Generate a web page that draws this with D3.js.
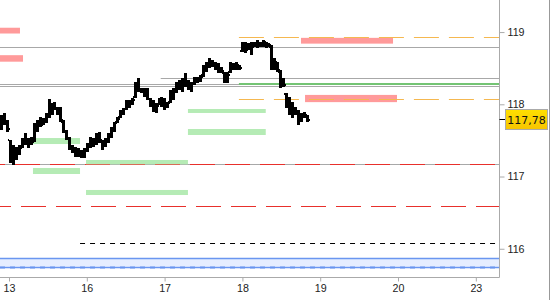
<!DOCTYPE html>
<html><head><meta charset="utf-8">
<script src="https://cdn.jsdelivr.net/npm/d3@7/dist/d3.min.js"></script>
<style>
html,body{margin:0;padding:0;background:#fff;}
svg{display:block;font-family:"DejaVu Sans",Verdana,sans-serif;}
</style></head><body>
<svg id="chart" width="550" height="300"></svg>
<script>
// ---- data ----
const dayIndex = [0,1,2,3,4,5,6];
const dayLabels = ["13","16","17","18","19","20","23"];
const priceTicks = [116,117,118,119];
const lastPrice = 117.78;
const lastPriceLabel = "117,78";

// bars (time in trading days from day "13")
const barStart = -0.103, barStep = 0.0382;
const highs = [117.85,117.88,117.78,117.51,117.44,117.41,117.44,117.53,117.60,117.53,117.55,117.74,117.78,117.82,117.81,117.88,118.07,118.02,118.03,117.96,
117.96,117.78,117.64,117.55,117.44,117.41,117.40,117.37,117.40,117.46,117.55,117.53,117.60,117.62,117.51,117.53,117.60,117.69,117.76,117.82,
117.92,117.95,118.06,118.06,118.09,118.31,118.36,118.23,118.23,118.23,118.09,118.06,118.02,118.09,118.10,118.09,118.03,118.20,118.23,118.31,
118.34,118.36,118.43,118.34,118.31,118.38,118.38,118.41,118.54,118.59,118.64,118.61,118.59,118.57,118.52,118.45,118.45,118.59,118.57,118.59,
118.54,118.86,118.86,118.85,118.86,118.86,118.89,118.86,118.89,118.86,118.85,118.82,118.64,118.59,118.48,118.36,118.16,118.10,118.03,117.96,
117.92,117.88,117.89,117.85];
const lows = [117.64,117.71,117.62,117.19,117.16,117.23,117.30,117.40,117.44,117.40,117.44,117.48,117.62,117.69,117.71,117.74,117.81,117.85,117.92,117.85,
117.76,117.60,117.51,117.37,117.33,117.27,117.27,117.26,117.26,117.34,117.40,117.41,117.44,117.46,117.37,117.41,117.46,117.53,117.62,117.74,
117.81,117.85,117.92,117.95,117.99,118.09,118.17,118.16,118.10,118.06,117.96,117.89,117.88,117.99,117.96,117.92,117.95,118.02,118.06,118.16,
118.20,118.17,118.24,118.20,118.17,118.27,118.30,118.31,118.38,118.45,118.50,118.52,118.48,118.43,118.43,118.30,118.30,118.43,118.48,118.48,
118.48,118.72,118.71,118.75,118.68,118.79,118.78,118.79,118.79,118.78,118.79,118.48,118.48,118.45,118.23,118.24,117.95,117.85,117.81,117.85,
117.71,117.76,117.81,117.76];
const opens = [117.70,117.80,117.74,117.50,117.25,117.30,117.36,117.42,117.50,117.46,117.50,117.50,117.70,117.75,117.72,117.79,117.86,117.90,118.00,117.95,
117.90,117.76,117.62,117.53,117.40,117.36,117.30,117.33,117.30,117.38,117.44,117.50,117.45,117.56,117.50,117.42,117.50,117.58,117.66,117.76,
117.82,117.90,117.93,118.02,118.00,118.10,118.25,118.20,118.20,118.15,118.08,118.00,117.93,118.00,118.05,118.00,117.98,118.03,118.16,118.20,
118.28,118.25,118.30,118.28,118.24,118.29,118.33,118.35,118.40,118.50,118.55,118.58,118.55,118.52,118.48,118.44,118.35,118.45,118.55,118.52,
118.54,118.74,118.80,118.76,118.82,118.80,118.83,118.85,118.82,118.86,118.84,118.80,118.52,118.58,118.45,118.30,118.14,118.00,117.90,117.88,
117.88,117.80,117.82,117.84];
const closes = [117.80,117.74,117.66,117.25,117.30,117.36,117.40,117.50,117.46,117.50,117.48,117.70,117.75,117.72,117.79,117.86,117.90,118.00,117.95,117.90,
117.78,117.62,117.53,117.40,117.36,117.30,117.33,117.30,117.38,117.44,117.50,117.45,117.56,117.50,117.42,117.50,117.58,117.66,117.74,117.80,
117.90,117.93,118.02,118.00,118.06,118.25,118.20,118.20,118.15,118.08,118.00,117.93,117.98,118.05,118.00,117.98,118.02,118.16,118.20,118.28,
118.25,118.30,118.28,118.24,118.29,118.33,118.35,118.38,118.50,118.55,118.58,118.55,118.52,118.48,118.46,118.35,118.40,118.55,118.52,118.55,
118.50,118.80,118.75,118.82,118.80,118.83,118.85,118.82,118.86,118.84,118.82,118.52,118.58,118.48,118.30,118.27,118.00,117.90,117.88,117.88,
117.80,117.82,117.85,117.78];

// levels
const grayPrices = [118.80, 118.37, 118.28, 118.25, 117.17];
const grayStarts = [-1, 1.95, -1, -1, -1];
const greenLinePrice = 118.28, greenLineStart = 2.955;
const orangePrices = [118.93, 118.07], orangeStart = 2.955;
const redPrices = [117.17, 116.588];
const blackDashPrice = 116.076, blackDashStart = 0.913;
const blueBand = [115.868, 115.752];
const blueDashPrice = 115.742;

// zones [start, end, high, low]
const pinkStart = [-1, -1, 3.753, 3.805];
const pinkEnd   = [0.141, 0.18, 4.936, 4.987];
const pinkHigh  = [119.06, 118.68, 118.92, 118.13];
const pinkLow   = [118.98, 118.59, 118.84, 118.03];
const greenStart = [0.308, 0.308, 0.99, 0.99, 2.30, 2.30];
const greenEnd   = [0.913, 0.913, 2.30, 2.30, 3.30, 3.30];
const greenHigh  = [117.533, 117.118, 117.229, 116.814, 117.935, 117.658];
const greenLow   = [117.450, 117.035, 117.169, 116.744, 117.880, 117.575];

// ---- drawing ----
const W = 499, H = 277;
const svg = d3.select("#chart");
const x = d3.scaleLinear().domain([-0.1157, 6.298]).range([0, W]);
const y = d3.scaleLinear().domain([115.609, 119.444]).range([H, 0]);

svg.append("defs").append("clipPath").attr("id","clip")
  .append("rect").attr("x",0).attr("y",0).attr("width",W).attr("height",H);
const g = svg.append("g").attr("clip-path","url(#clip)");
const X0 = x.domain()[0];
const cx = t => Math.max(X0, t);

// blue band
g.append("rect").attr("x",0).attr("width",W)
  .attr("y",y(blueBand[0])).attr("height",y(blueBand[1])-y(blueBand[0]))
  .attr("fill","#e6eeff");
g.append("line").attr("x1",0).attr("x2",W)
  .attr("y1",Math.round(y(blueDashPrice))+0.5).attr("y2",Math.round(y(blueDashPrice))+0.5)
  .attr("stroke","#6a96f0").attr("stroke-width",2).attr("stroke-dasharray","5,5");
blueBand.forEach(p=>{
  g.append("line").attr("x1",0).attr("x2",W)
   .attr("y1",Math.round(y(p))+0.5).attr("y2",Math.round(y(p))+0.5)
   .attr("stroke","#6a96f0").attr("stroke-width",1.3);
});

// pink zones
pinkStart.forEach((s,i)=>{
  g.append("rect").attr("x",x(cx(s))).attr("width",x(pinkEnd[i])-x(cx(s)))
   .attr("y",y(pinkHigh[i])).attr("height",y(pinkLow[i])-y(pinkHigh[i]))
   .attr("fill","#ff9a9a");
});
// gray lines
grayPrices.forEach((p,i)=>{
  const yy = Math.round(y(p))+0.5;
  g.append("line").attr("x1",x(cx(grayStarts[i]))).attr("x2",W)
   .attr("y1",yy).attr("y2",yy).attr("stroke","#a8a8a8").attr("stroke-width",1.2);
});
// red dashed
redPrices.forEach((p,i)=>{
  const yy = Math.round(y(p))+0.5;
  g.append("line").attr("x1",0).attr("x2",W).attr("y1",yy).attr("y2",yy)
   .attr("stroke","#e8302c").attr("stroke-width",1.2)
   .attr("stroke-dasharray","25,10").attr("stroke-dashoffset", i===0?20:14);
});
// green zones
greenStart.forEach((s,i)=>{
  g.append("rect").attr("x",x(s)).attr("width",x(greenEnd[i])-x(s))
   .attr("y",y(greenHigh[i])).attr("height",y(greenLow[i])-y(greenHigh[i]))
   .attr("fill","#b5ebb5");
});
// green line (drawn over the gray level at the same price)
{
  const yy = Math.round(y(greenLinePrice))+0.5;
  g.append("line").attr("x1",x(greenLineStart)).attr("x2",W)
    .attr("y1",yy-0.5).attr("y2",yy-0.5)
    .attr("stroke","#74c474").attr("stroke-width",2);
}
// orange dashed
orangePrices.forEach(p=>{
  const yy = Math.round(y(p))+0.5;
  g.append("line").attr("x1",x(orangeStart)).attr("x2",W).attr("y1",yy).attr("y2",yy)
   .attr("stroke","#f5b850").attr("stroke-width",1.2).attr("stroke-dasharray","25,10");
});
// black dashed
{
  const yy = Math.round(y(blackDashPrice))+0.5;
  g.append("line").attr("x1",x(blackDashStart)).attr("x2",W).attr("y1",yy).attr("y2",yy)
   .attr("stroke","#000").attr("stroke-width",1.2).attr("stroke-dasharray","5,5");
}

// OHLC bars
const bars = highs.map((h,i)=>({t: barStart + i*barStep, h, l: lows[i], o: opens[i], c: closes[i]}));
const bg = g.append("g").attr("fill","#000");
bg.selectAll("rect.hl").data(bars).enter().append("rect")
  .attr("x", d=>Math.round(x(d.t))-1).attr("width",3)
  .attr("y", d=>Math.round(y(d.h))).attr("height", d=>Math.max(2,Math.round(y(d.l))-Math.round(y(d.h))));
bg.selectAll("rect.o").data(bars).enter().append("rect")
  .attr("x", d=>Math.round(x(d.t))-2).attr("width",1)
  .attr("y", d=>Math.round(y(d.o))-1).attr("height",2);
bg.selectAll("rect.c").data(bars).enter().append("rect")
  .attr("x", d=>Math.round(x(d.t))+2).attr("width",1)
  .attr("y", d=>Math.round(y(d.c))-1).attr("height",2);

// axes
const xAxis = d3.axisBottom(x).tickValues(dayIndex).tickFormat((d,i)=>dayLabels[i])
  .tickSizeInner(4).tickSizeOuter(0).tickPadding(3);
const xa = svg.append("g").attr("transform",`translate(0,${H+0.5})`).call(xAxis);
xa.select(".domain").attr("stroke","#aaa").attr("d",`M0,0H${W+0.5}`);
xa.selectAll(".tick line").attr("stroke","#aaa");
xa.selectAll(".tick text").attr("fill","#222").style("font-size","10.7px");

const yAxis = d3.axisRight(y).tickValues(priceTicks).tickFormat(d3.format("d"))
  .tickSizeInner(5).tickSizeOuter(0).tickPadding(3);
const ya = svg.append("g").attr("transform",`translate(${W+0.5},0)`).call(yAxis);
ya.select(".domain").attr("stroke","#aaa").attr("d",`M0,0V${H+0.5}`);
ya.selectAll(".tick line").attr("stroke","#aaa");
ya.selectAll(".tick text").attr("fill","#222").style("font-size","10.7px");

// right border
svg.append("line").attr("x1",549.5).attr("x2",549.5).attr("y1",0).attr("y2",300)
  .attr("stroke","#999").attr("stroke-width",1);

// last price label
const defs = svg.select("defs");
const grad = defs.append("linearGradient").attr("id","gold").attr("x1",0).attr("x2",0).attr("y1",0).attr("y2",1);
grad.append("stop").attr("offset","0%").attr("stop-color","#ffe000");
grad.append("stop").attr("offset","100%").attr("stop-color","#f7c400");
const ly = y(lastPrice);
svg.append("line").attr("x1",W+0.5).attr("x2",W+6).attr("y1",Math.round(ly)-0.5).attr("y2",Math.round(ly)-0.5)
  .attr("stroke","#000").attr("stroke-width",1);
svg.append("rect").attr("x",505.5).attr("y",Math.round(ly)-10.5).attr("width",42).attr("height",20)
  .attr("fill","url(#gold)").attr("stroke","#aaa").attr("stroke-width",1);
svg.append("text").attr("x",526.5).attr("y",Math.round(ly)).attr("dy","0.36em")
  .attr("text-anchor","middle").attr("fill","#111").style("font-size","11px").text(lastPriceLabel);
</script>
</body></html>
